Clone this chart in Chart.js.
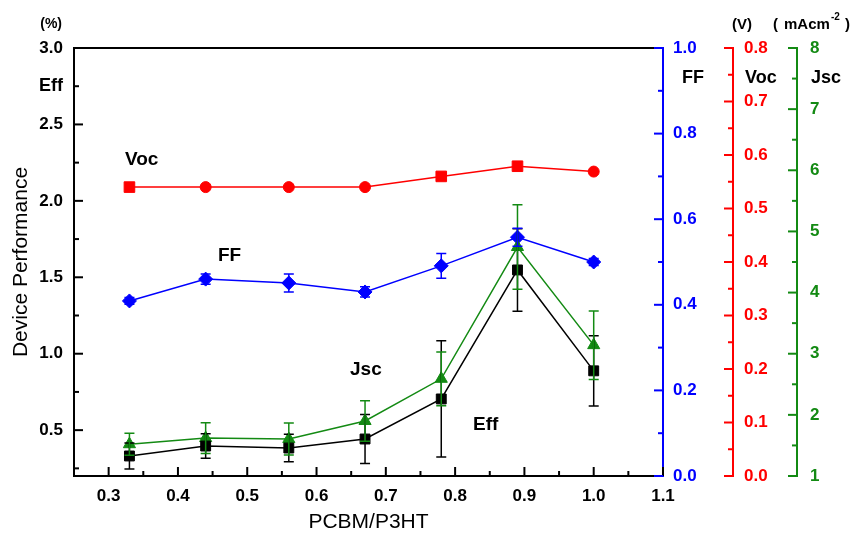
<!DOCTYPE html>
<html>
<head>
<meta charset="utf-8">
<script src="https://cdn.jsdelivr.net/npm/chart.js@4"></script>
<style>
  body { margin: 0; background: #fff; }
</style>
</head>
<body>
<canvas id="perfChart" width="855" height="536"></canvas>
<script>
  // PCBM/P3HT ratio on the x axis
  const ratios = [0.33, 0.44, 0.56, 0.67, 0.78, 0.89, 1.0];

  const vocValues = [0.54, 0.54, 0.54, 0.54, 0.56, 0.579, 0.569];
  const vocErrors = [0, 0, 0, 0, 0, 0, 0];
  const ffValues = [0.409, 0.46, 0.451, 0.43, 0.491, 0.558, 0.5];
  const ffErrors = [0.008, 0.012, 0.021, 0.012, 0.029, 0.021, 0.008];
  const effValues = [0.331, 0.396, 0.383, 0.442, 0.704, 1.548, 0.888];
  const effErrors = [0.085, 0.08, 0.09, 0.16, 0.38, 0.27, 0.23];
  const jscValues = [1.52, 1.62, 1.605, 1.9, 2.59, 4.745, 3.14];
  const jscErrors = [0.18, 0.25, 0.26, 0.33, 0.44, 0.69, 0.56];

  const RED = "#ff0000", BLUE = "#0000ff", GREEN = "#138a13", BLACK = "#000000";
  const FONT = '"Liberation Sans", Arial, sans-serif';
  Chart.defaults.font.family = FONT;

  const toPoints = vals => ratios.map((x, i) => ({ x: x, y: vals[i] }));

  // the Voc curve mixes squares and circles
  const vocShapes = ["rect", "circle", "circle", "circle", "rect", "rect", "circle"];

  // minor / major tick steps, drawn inward or outward by the plugin below
  const tickMarks = {
    x:    { minor: 0.05, major: 0.1, dir: "up",    color: BLACK },
    yEff: { minor: 0.25, major: 0.5, dir: "right", color: BLACK },
    yFF:  { minor: 0.1,  major: 0.2, dir: "left",  color: BLUE },
    yVoc: { minor: 0.05, major: 0.1, dir: "left",  color: RED },
    yJsc: { minor: 0.5,  major: 1,   dir: "left",  color: GREEN }
  };

  const decorPlugin = {
    id: "decor",
    afterDatasetsDraw(chart) {
      const ctx = chart.ctx;
      const xs = chart.scales.x;
      // error bars
      chart.data.datasets.forEach(ds => {
        const ys = chart.scales[ds.yAxisID];
        ctx.save();
        ctx.strokeStyle = ds.borderColor;
        ctx.lineWidth = 1.5;
        ratios.forEach((r, i) => {
          const e = ds.errors[i];
          if (!e) return;
          const px = xs.getPixelForValue(r);
          const top = ys.getPixelForValue(ds.data[i].y + e);
          const bot = ys.getPixelForValue(ds.data[i].y - e);
          ctx.beginPath();
          ctx.moveTo(px, top); ctx.lineTo(px, bot);
          ctx.moveTo(px - 5, top); ctx.lineTo(px + 5, top);
          ctx.moveTo(px - 5, bot); ctx.lineTo(px + 5, bot);
          ctx.stroke();
        });
        ctx.restore();
      });
    },
    afterDraw(chart) {
      const ctx = chart.ctx;
      const area = chart.chartArea;
      ctx.save();
      ctx.lineWidth = 2;
      // top frame line
      ctx.strokeStyle = BLACK;
      ctx.beginPath();
      ctx.moveTo(area.left - 1, area.top);
      ctx.lineTo(area.right, area.top);
      ctx.stroke();

      // tick marks
      Object.keys(tickMarks).forEach(id => {
        const spec = tickMarks[id];
        const s = chart.scales[id];
        ctx.strokeStyle = spec.color;
        const start = Math.ceil(s.min / spec.minor - 1e-6);
        const end = Math.floor(s.max / spec.minor + 1e-6);
        for (let k = start; k <= end; k++) {
          const v = k * spec.minor;
          const q = v / spec.major;
          const len = Math.abs(q - Math.round(q)) < 1e-6 ? 9 : 5;
          const p = s.getPixelForValue(v);
          ctx.beginPath();
          if (spec.dir === "up") {
            ctx.moveTo(p, s.top); ctx.lineTo(p, s.top - len);
          } else if (spec.dir === "right") {
            ctx.moveTo(s.right, p); ctx.lineTo(s.right + len, p);
          } else {
            ctx.moveTo(s.left, p); ctx.lineTo(s.left - len, p);
          }
          ctx.stroke();
        }
      });

      // axis names and units
      const text = (str, x, y, size, align) => {
        ctx.fillStyle = BLACK;
        ctx.font = "bold " + size + "px " + FONT;
        ctx.textAlign = align || "left";
        ctx.textBaseline = "middle";
        ctx.fillText(str, x, y);
      };
      text("(%)", 62, 24, 14, "right");
      text("Eff", 63, 86, 18, "right");
      text("(V)", 732, 25, 15);
      text("(", 773, 25, 15);
      text("mAcm", 784, 25, 15);
      text("-2", 831, 17, 10);
      text(")", 845, 25, 15);
      text("FF", 682, 78, 18);
      text("Voc", 745, 78, 18);
      text("Jsc", 811, 78, 18);

      // curve labels inside the plot
      text("Voc", 125, 160, 19);
      text("FF", 218, 256, 19);
      text("Jsc", 350, 370, 19);
      text("Eff", 473, 425, 19);
      ctx.restore();
    }
  };

  const noGrid = { display: false, drawTicks: false, tickLength: 0 };

  const rightAxis = (color, min, max, step, decimals, width, pad, weight) => ({
    type: "linear",
    position: "right",
    weight: weight,
    min: min,
    max: max,
    grid: noGrid,
    border: { display: true, color: color, width: 2 },
    ticks: {
      stepSize: step,
      padding: pad,
      color: color,
      autoSkip: false,
      font: { size: 17, weight: "bold" },
      callback: v => v.toFixed(decimals)
    },
    afterFit: s => { s.width = width; }
  });

  new Chart(document.getElementById("perfChart"), {
    type: "line",
    data: {
      datasets: [
        {
          label: "Eff", data: toPoints(effValues), errors: effErrors, yAxisID: "yEff",
          borderColor: BLACK, backgroundColor: BLACK, borderWidth: 1.5,
          pointStyle: "rect", pointRadius: 7, pointBorderWidth: 1, order: 0
        },
        {
          label: "Jsc", data: toPoints(jscValues), errors: jscErrors, yAxisID: "yJsc",
          borderColor: GREEN, backgroundColor: GREEN, borderWidth: 1.5,
          pointStyle: "triangle", pointRadius: 7, pointBorderWidth: 1, order: 1
        },
        {
          label: "FF", data: toPoints(ffValues), errors: ffErrors, yAxisID: "yFF",
          borderColor: BLUE, backgroundColor: BLUE, borderWidth: 1.5,
          pointStyle: "rectRot", pointRadius: 7, pointBorderWidth: 1, order: 2
        },
        {
          label: "Voc", data: toPoints(vocValues), errors: vocErrors, yAxisID: "yVoc",
          borderColor: RED, backgroundColor: RED, borderWidth: 1.5,
          pointStyle: vocShapes, pointRadius: vocShapes.map(s => s === "rect" ? 7.5 : 5.5),
          pointBorderWidth: 1, order: 3
        }
      ]
    },
    options: {
      responsive: false,
      animation: false,
      layout: { padding: { top: 48 } },
      plugins: { legend: { display: false }, tooltip: { enabled: false } },
      scales: {
        x: {
          type: "linear",
          min: 0.25,
          max: 1.1,
          grid: noGrid,
          border: { display: true, color: BLACK, width: 2 },
          title: {
            display: true,
            text: "PCBM/P3HT",
            color: BLACK,
            font: { size: 21, weight: "normal" },
            padding: { top: 0, bottom: 1 }
          },
          ticks: {
            stepSize: 0.1,
            includeBounds: false,
            padding: 10,
            color: BLACK,
            autoSkip: false,
            maxRotation: 0,
            font: { size: 17, weight: "bold" },
            callback: v => v.toFixed(1)
          },
          afterFit: s => { s.height = 60; }
        },
        yEff: {
          type: "linear",
          position: "left",
          min: 0.2,
          max: 3.0,
          grid: noGrid,
          border: { display: true, color: BLACK, width: 2 },
          title: {
            display: true,
            text: "Device Performance",
            color: BLACK,
            font: { size: 21, weight: "normal" },
            padding: { top: 9, bottom: 0 }
          },
          ticks: {
            stepSize: 0.5,
            includeBounds: false,
            padding: 11,
            color: BLACK,
            autoSkip: false,
            font: { size: 17, weight: "bold" },
            callback: v => v.toFixed(1)
          },
          afterFit: s => { s.width = 74; }
        },
        yFF: rightAxis(BLUE, 0, 1, 0.2, 1, 70, 10, 1),
        yVoc: rightAxis(RED, 0, 0.8, 0.1, 1, 64, 11, 2),
        yJsc: rightAxis(GREEN, 1, 8, 1, 0, 58, 13, 3)
      }
    },
    plugins: [decorPlugin]
  });
</script>
</body>
</html>
